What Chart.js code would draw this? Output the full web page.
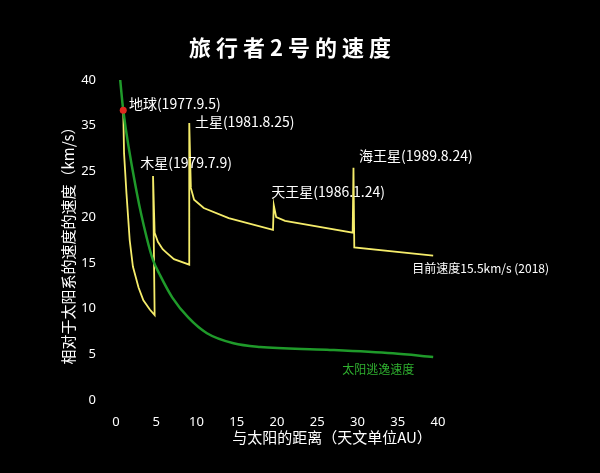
<!DOCTYPE html>
<html><head><meta charset="utf-8">
<style>html,body{margin:0;background:#000;}#c{display:block;}</style>
<script src="https://cdn.jsdelivr.net/npm/chart.js"></script>
</head><body>
<div style="width:600px;height:473px"><canvas id="c"></canvas></div>
<script>
// Voyager 2 speed (axis units; the original y labels skip 30)
const voyagerX = [0.9, 1.0, 1.3, 1.7, 2.1, 2.8, 3.4, 4.2, 4.8, 4.6, 4.8, 5.2, 5.8, 6.3, 7.2, 9.1, 9.1, 9.3, 9.7, 10.9, 14.0, 19.5, 19.6, 19.9, 21.0, 29.4, 29.5, 29.6, 39.4];
const voyagerY = [31.7, 27.0, 22.6, 17.5, 14.6, 12.3, 10.9, 9.9, 9.3, 24.5, 18.3, 17.3, 16.5, 16.1, 15.4, 14.8, 30.3, 23.2, 21.9, 21.0, 19.9, 18.6, 21.3, 20.0, 19.6, 18.3, 25.4, 16.7, 15.8];
// solar escape velocity
const escapeX = [0.5, 0.9, 2.6, 3.8, 4.6, 5.5, 7.0, 9.0, 11.3, 14.6, 17.9, 26.2, 34.4, 39.4];
const escapeY = [35.2, 31.7, 22.6, 17.8, 15.3, 13.6, 11.2, 9.0, 7.3, 6.2, 5.8, 5.5, 5.1, 4.7];
const yTickLabels = ['0', '5', '10', '15', '20', '25', '35', '40'];
const notes = [
  {x: 1.6, y: 32.4, text: '地球(1977.9.5)', color: '#fff'},
  {x: 9.8, y: 30.4, text: '土星(1981.8.25)', color: '#fff'},
  {x: 3.0, y: 26.0, text: '木星(1979.7.9)', color: '#fff'},
  {x: 19.3, y: 22.8, text: '天王星(1986.1.24)', color: '#fff'},
  {x: 30.2, y: 26.7, text: '海王星(1989.8.24)', color: '#fff'},
  {x: 36.8, y: 14.4, text: '目前速度15.5km/s (2018)', color: '#fff', size: 12},
  {x: 28.1, y: 3.3, text: '太阳逃逸速度', color: '#2fb02f', size: 12}
];
const cjk = '"Noto Sans CJK SC", "Noto Sans", sans-serif';

const textPlugin = {
  id: 'texts',
  afterDatasetsDraw(chart) {
    const c = chart.ctx, xs = chart.scales.x, ys = chart.scales.y;
    c.save();
    c.textBaseline = 'middle';
    c.textAlign = 'left';
    notes.forEach(n => {
      c.fillStyle = n.color;
      c.font = (n.size || 14) + 'px ' + cjk;
      c.fillText(n.text, xs.getPixelForValue(n.x), ys.getPixelForValue(n.y));
    });
    // Earth marker
    c.fillStyle = '#e0281e';
    c.beginPath();
    c.arc(xs.getPixelForValue(voyagerX[0]), ys.getPixelForValue(voyagerY[0]), 3.5, 0, Math.PI * 2);
    c.fill();
    // titles
    c.fillStyle = '#fff';
    c.textAlign = 'center';
    c.font = 'bold 22px ' + cjk;
    c.fillText('旅 行 者 2 号 的 速 度', 290, 48);
    c.font = '15px ' + cjk;
    c.fillText('与太阳的距离（天文单位AU）', 332, 437);
    c.translate(68, 242);
    c.rotate(-Math.PI / 2);
    c.fillText('相对于太阳系的速度的速度（km/s）', 0, 0);
    c.restore();
  }
};

new Chart(document.getElementById('c'), {
  type: 'scatter',
  data: {
    datasets: [
      {data: escapeX.map((x, i) => ({x, y: escapeY[i]})), showLine: true, borderColor: '#1f9a2a', borderWidth: 2.5, pointRadius: 0, cubicInterpolationMode: 'monotone'},
      {data: voyagerX.map((x, i) => ({x, y: voyagerY[i]})), showLine: true, borderColor: '#f5ec6a', borderWidth: 1.8, pointRadius: 0}
    ]
  },
  options: {
    animation: false,
    responsive: true,
    maintainAspectRatio: false,
    layout: {padding: {top: 80, right: 162, left: 0, bottom: 0}},
    plugins: {legend: {display: false}, tooltip: {enabled: false}},
    scales: {
      x: {
        min: 0, max: 40,
        grid: {display: false}, border: {display: false},
        ticks: {stepSize: 5, color: '#fff', padding: 6, font: {size: 13, family: '"Noto Sans", sans-serif'}},
        afterFit(s) { s.height = 73; }
      },
      y: {
        min: 0, max: 35,
        grid: {display: false}, border: {display: false},
        ticks: {stepSize: 5, color: '#fff', padding: 12, font: {size: 13, family: '"Noto Sans", sans-serif'},
          callback: (v) => yTickLabels[Math.round(v / 5)]},
        afterFit(s) { s.width = 116; }
      }
    }
  },
  plugins: [textPlugin]
});
</script>
</body></html>
